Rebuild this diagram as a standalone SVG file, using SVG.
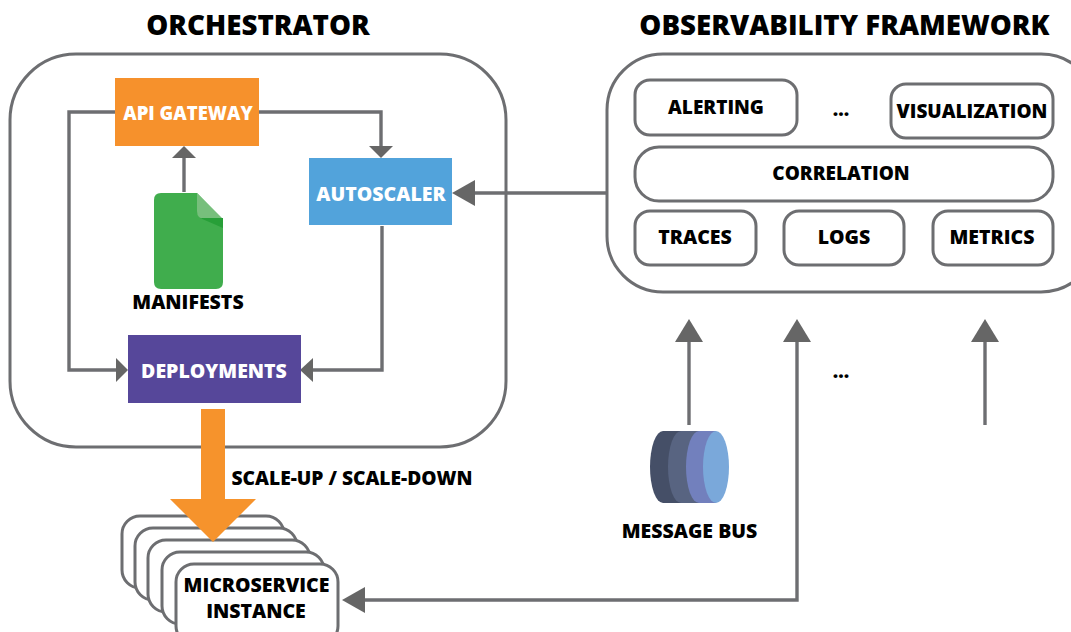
<svg xmlns="http://www.w3.org/2000/svg" width="1071" height="632" viewBox="0 0 1071 632">
<style>
text{font-family:"Open Sans","Noto Sans","Liberation Sans",sans-serif;font-weight:800;text-anchor:middle;fill:#000}
.t{font-size:19px}
.m{font-size:19.5px}
.h{font-size:27.7px}
.w{fill:#fff;font-size:19.5px}
.box{fill:#fff;stroke:#6d6e71;stroke-width:3}
.big{fill:#fff;stroke:#6d6e71;stroke-width:3}
.c{fill:none;stroke:#6d6e71;stroke-width:3.4}
.a{fill:#666}
</style>
<rect width="1071" height="632" fill="#fff"/>
<text class="h" x="258" y="35">ORCHESTRATOR</text>
<text class="h" x="844.500" y="35">OBSERVABILITY FRAMEWORK</text>
<g id="orchestrator"><rect class="big" x="10" y="54" width="496" height="393" rx="66"/></g>
<g id="framework"><rect class="big" x="607" y="54" width="490" height="238" rx="56"/></g>
<g id="connectors">
<path class="c" d="M115 112H69V370H118"/>
<path class="c" d="M259 112H381V148"/>
<path class="c" d="M184 192V156"/>
<path class="c" d="M382 226V370H312"/>
<path class="c" d="M607 193H472"/>
<path class="c" d="M689 425V340"/>
<path class="c" d="M797 340V600H362"/>
<path class="c" d="M985 425V340"/>
<polygon class="a" points="128,370 116,358 116,382"/>
<polygon class="a" points="381,158 369,146 393,146"/>
<polygon class="a" points="184,146 172,158 196,158"/>
<polygon class="a" points="300,370 313,358 313,382"/>
<polygon class="a" points="452,193 475,180 475,206"/>
<polygon class="a" points="689,319 675,342 703,342"/>
<polygon class="a" points="797,319 783,342 811,342"/>
<polygon class="a" points="985,319 971,342 999,342"/>
<polygon class="a" points="342,600 365,587 365,613"/>
</g>
<g id="api-gateway"><rect x="115" y="78" width="144" height="68" fill="#f6912c"/><text class="w" style="font-size:18.5px" x="188" y="120">API GATEWAY</text></g>
<g id="autoscaler"><rect x="309" y="158" width="143" height="67" fill="#52a3db"/><text class="w" x="381" y="201">AUTOSCALER</text></g>
<g id="deployments"><rect x="128" y="335" width="173" height="68" fill="#56479a"/><text class="w" x="214" y="378">DEPLOYMENTS</text></g>
<g id="manifests">
<path d="M161 193H197L223 220V282Q223 289 216 289H161Q154 289 154 282V200Q154 193 161 193Z" fill="#40ad4d"/>
<path d="M197 193L223 219H205Q197 219 197 211Z" fill="#77bf7c"/>
<path d="M200 218H223V228Z" fill="#279f38"/>
<text class="m" x="188" y="309">MANIFESTS</text>
</g>
<g id="alerting"><rect class="box" x="635" y="80" width="162" height="55" rx="15"/><text class="t" x="716" y="114">ALERTING</text></g>
<g id="visualization"><rect class="box" x="891" y="84" width="162" height="54" rx="15"/><text class="t" x="972" y="118">VISUALIZATION</text></g>
<text class="t" x="841" y="116">...</text>
<g id="correlation"><rect class="box" x="635" y="147" width="418" height="54" rx="24"/><text class="t" x="841" y="180">CORRELATION</text></g>
<g id="traces"><rect class="box" x="635" y="211" width="121" height="54" rx="15"/><text class="m" x="695" y="244">TRACES</text></g>
<g id="logs"><rect class="box" x="784" y="211" width="120" height="54" rx="15"/><text class="m" x="844" y="244">LOGS</text></g>
<g id="metrics"><rect class="box" x="933" y="211" width="120" height="54" rx="15"/><text class="m" x="992" y="244">METRICS</text></g>
<text class="t" x="841" y="378">...</text>
<g id="message-bus">
<path d="M663 431H716V503H663A13 36 0 0 1 663 431Z" fill="#454f67"/>
<path d="M681 431H716V503H681A13 36 0 0 1 681 431Z" fill="#586481"/>
<path d="M699 431H716V503H699A13 36 0 0 1 699 431Z" fill="#7280bd"/>
<ellipse cx="716" cy="467" rx="13" ry="36" fill="#7aa8da"/>
<text class="m" x="689.500" y="538">MESSAGE BUS</text>
</g>
<g id="microservice-instance">
<rect class="box" x="122" y="516" width="162" height="72" rx="18"/>
<rect class="box" x="135" y="528" width="162" height="72" rx="18"/>
<rect class="box" x="148" y="540" width="162" height="72" rx="18"/>
<rect class="box" x="162" y="552" width="162" height="72" rx="18"/>
<rect class="box" x="176" y="564" width="162" height="80" rx="18"/>
<text class="m" x="256.500" y="592">MICROSERVICE</text>
<text class="m" x="256" y="618">INSTANCE</text>
</g>
<g id="scale-arrow">
<polygon points="201,409 225,409 225,499 256,499 213,542 170,499 201,499" fill="#f6932c"/>
<text class="t" style="font-size:19.2px" x="352" y="485">SCALE-UP / SCALE-DOWN</text>
</g>
</svg>
